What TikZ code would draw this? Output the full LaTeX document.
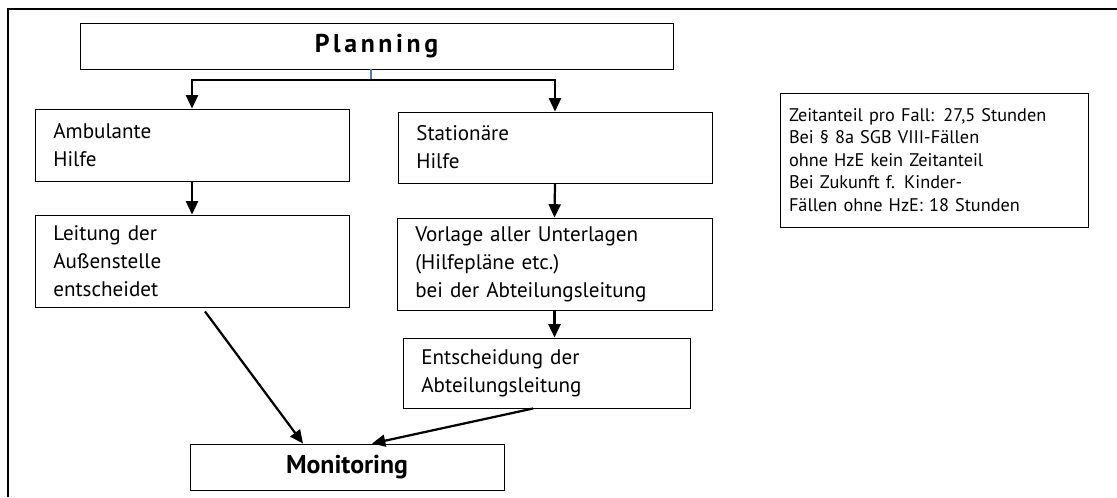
\documentclass[tikz,border=0pt]{standalone}
\usepackage{fontspec}
\setmainfont{PT Sans}
\newfontfamily\spacedfont[LetterSpace=14]{PT Sans}
\usetikzlibrary{arrows.meta}
\definecolor{tickblue}{HTML}{4A7EBB}

\begin{document}
\begin{tikzpicture}[
  bx/.style={draw,line width=0.8pt,inner xsep=0.55cm,inner ysep=0pt,align=left,
             font=\fontsize{18}{24}\selectfont},
  hd/.style={draw,line width=0.8pt,minimum height=1.38cm,align=center},
  nt/.style={draw,line width=0.8pt,inner xsep=0.27cm,align=left,text width=8.7cm,
             minimum height=4.02cm,font=\fontsize{15.6}{19.2}\selectfont},
  ar/.style={-{Triangle[length=0.4cm,width=0.36cm]},line width=1.9pt},
  tk/.style={draw=tickblue,line width=1pt}]

\useasboundingbox (0,0) rectangle (33.51,-14.91);
\draw[line width=0.9pt] (0.24,-14.91) |- (33.51,-0.27);

\node[hd,minimum width=17.79cm,font=\fontsize{22}{24}\bfseries\spacedfont] (plan) at (11.295,-1.38) {Planning};
\node[bx,text width=8.32cm,minimum height=2.16cm] (amb) at (5.76,-4.35) {Ambulante\\Hilfe};
\node[bx,text width=8.32cm,minimum height=2.13cm] (stat) at (16.65,-4.425) {Stationäre\\Hilfe};
\node[bx,text width=8.32cm,minimum height=2.76cm] (leit) at (5.76,-7.83) {Leitung der\\Außenstelle\\entscheidet};
\node[bx,text width=8.35cm,minimum height=2.76cm] (vorl) at (16.635,-7.92) {Vorlage aller Unterlagen\\(Hilfepläne etc.)\\bei der Abteilungsleitung};
\node[bx,text width=7.51cm,minimum height=2.1cm] (ents) at (16.395,-11.19) {Entscheidung der\\Abteilungsleitung};
\node[hd,minimum width=9.42cm,font=\fontsize{22}{24}\selectfont\bfseries] (moni) at (10.41,-14.01) {Monitoring};
\node[nt] (note) at (28.02,-4.8) {Zeitanteil pro Fall: 27,5 Stunden\\Bei § 8a SGB VIII-Fällen\\ohne HzE kein Zeitanteil\\Bei Zukunft f. Kinder-\\Fällen ohne HzE: 18 Stunden};

\coordinate (bus) at (11.13,-2.4);
\draw[tk] (plan.south -| bus) -- (bus);
\draw[ar] (bus) -| (amb.north);
\draw[ar] (bus) -| (stat.north);
\draw[ar] (amb.south) -- (leit.north);
\draw[ar] (stat.south) -- (vorl.north);
\draw[ar] (vorl.south) -- (vorl.south |- ents.north);
\draw[ar] ([xshift=0.39cm,yshift=-0.12cm]leit.south) -- ([xshift=-1.32cm]moni.north);
\draw[ar] ([xshift=-0.4cm]ents.south) -- ([xshift=0.75cm]moni.north);
\end{tikzpicture}
\end{document}
